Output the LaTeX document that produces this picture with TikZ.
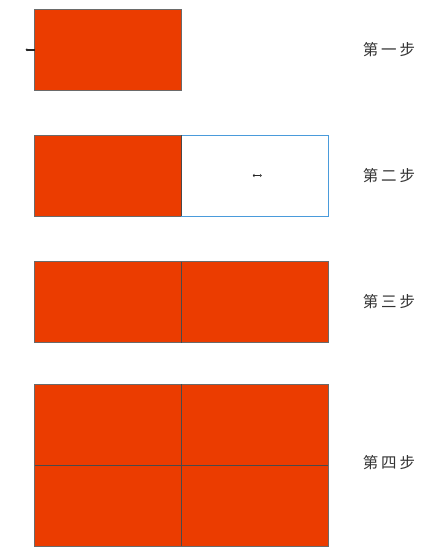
\documentclass[tikz,border=0pt]{standalone}
\usepackage{fontspec}
\newfontfamily\cjk{Noto Sans CJK SC}
\usetikzlibrary{positioning,arrows.meta}
\definecolor{blockred}{HTML}{EB3C00}
\definecolor{edgegray}{HTML}{6A6A6A}
\definecolor{innergray}{HTML}{4A4A4A}
\definecolor{edgeblue}{HTML}{4A9BDB}
\definecolor{labelgray}{HTML}{333333}
\newcommand{\steptext}[3]{{\cjk #1\hspace{3pt}#2\hspace{3pt}#3}}

\begin{document}
\begin{tikzpicture}[x=1pt,y=1pt,
    block/.style={rectangle,draw=edgegray,fill=blockred,line width=1pt,
        minimum width=146.75pt,minimum height=81pt,inner sep=0pt,outer sep=0pt},
    slot/.style={block,draw=edgeblue,fill=white},
    steplabel/.style={text=labelgray,font=\fontsize{15.5}{15.5}\selectfont},
    tiny/.style={line width=1.8pt,black!85,>={Latex[length=1.5pt,width=3.5pt]}}]

\useasboundingbox (0,0) rectangle (429,-558);

% step 1
\node[block] (b1) at (108,-49.75) {};
\coordinate[left=9pt of b1.west] (p1);
\draw[tiny,<-] (p1) -- (b1.west);
\node[steplabel] (l1) at (389,-49.75) {\steptext{第}{一}{步}};

% step 2
\node[block] (b2a) at (108,-175.5) {};
\node[slot,right=0pt of b2a] (b2b) {};
\coordinate (p2a) at ([xshift=-2pt]b2b.center);
\coordinate (p2b) at ([xshift=7pt]b2b.center);
\draw[tiny,<->] (p2a) -- (p2b);
\node[steplabel] (l2) at (389,-175.5) {\steptext{第}{二}{步}};

% step 3
\node[block] (b3a) at (108,-302) {};
\node[block,right=0pt of b3a] (b3b) {};
\node[steplabel] (l3) at (389,-302) {\steptext{第}{三}{步}};

% step 4
\node[block] (b4a) at (108,-424.75) {};
\node[block,right=0pt of b4a] (b4b) {};
\node[block,below=0pt of b4a] (b4c) {};
\node[block,below=0pt of b4b] (b4d) {};
\node[steplabel] (l4) at (389,-462.5) {\steptext{第}{四}{步}};

% inner edges, over the neighbouring fills
\draw[innergray,line width=1pt] (b2a.north east) -- (b2a.south east);
\draw[innergray,line width=1pt] (b3a.north east) -- (b3a.south east);
\draw[innergray,line width=1pt] (b4a.north east) -- (b4c.south east);
\draw[innergray,line width=1pt] (b4c.north west) -- (b4d.north east);

\end{tikzpicture}
\end{document}
